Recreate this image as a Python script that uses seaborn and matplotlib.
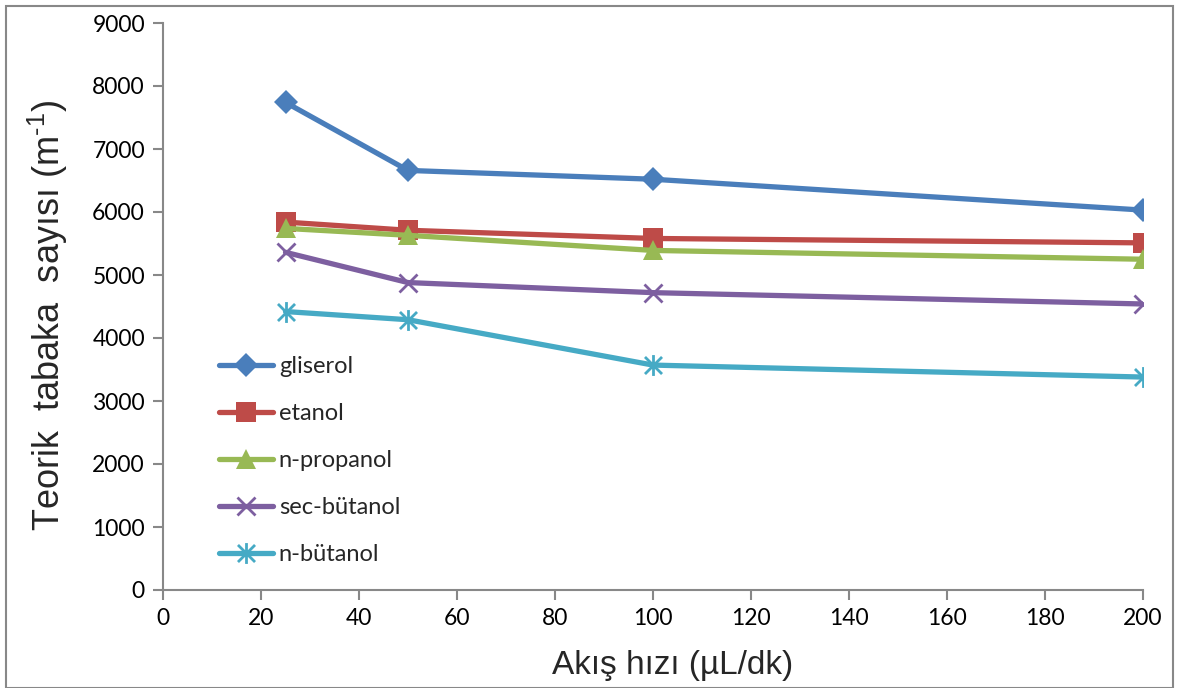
import matplotlib
matplotlib.use("Agg")
import matplotlib.pyplot as plt
from matplotlib.path import Path
import seaborn as sns
import pandas as pd

# Flow rates (µL/dk) and theoretical plate numbers per solvent
flow_rates = [25, 50, 100, 200]
gliserol = [7740, 6660, 6520, 6030]
etanol = [5840, 5710, 5580, 5510]
n_propanol = [5740, 5630, 5390, 5250]
sec_butanol = [5360, 4880, 4720, 4540]
n_butanol = [4420, 4290, 3570, 3380]

series_names = ["gliserol", "etanol", "n-propanol", "sec-bütanol", "n-bütanol"]
series_values = [gliserol, etanol, n_propanol, sec_butanol, n_butanol]

y_ticks = [0, 1000, 2000, 3000, 4000, 5000, 6000, 7000, 8000, 9000]
x_ticks = [0, 20, 40, 60, 80, 100, 120, 140, 160, 180, 200]

rows = []
for name, vals in zip(series_names, series_values):
    for x, y in zip(flow_rates, vals):
        rows.append({"akis": x, "N": y, "cozucu": name})
df = pd.DataFrame(rows)

sns.set_theme(style="white")
plt.rcParams["font.family"] = ["Lato", "DejaVu Sans"]
plt.rcParams["mathtext.fontset"] = "custom"
plt.rcParams["mathtext.rm"] = "Liberation Sans"
plt.rcParams["mathtext.it"] = "Liberation Sans"

# Asterisk marker: vertical stroke plus an X
asterisk = Path(
    [(0, -0.55), (0, 0.55), (-0.45, -0.45), (0.45, 0.45), (-0.45, 0.45), (0.45, -0.45)],
    [Path.MOVETO, Path.LINETO, Path.MOVETO, Path.LINETO, Path.MOVETO, Path.LINETO],
)

styles = {
    "gliserol": dict(color="#4A7EBB", marker="D", ms=12, mew=0),
    "etanol": dict(color="#BE4B48", marker="s", ms=14, mew=0),
    "n-propanol": dict(color="#98B954", marker="^", ms=14, mew=0),
    "sec-bütanol": dict(color="#7D5FA0", marker="x", ms=13, mew=2),
    "n-bütanol": dict(color="#46AAC5", marker=asterisk, ms=15, mew=2),
}

fig = plt.figure(figsize=(11.79, 6.88), dpi=100)
ax = fig.add_axes([163 / 1179, 1 - 590 / 688, 980 / 1179, 567 / 688])

for name in series_names:
    st = styles[name]
    sub = df[df["cozucu"] == name]
    sns.lineplot(data=sub, x="akis", y="N", ax=ax, color=st["color"], lw=3.8,
                 marker=st["marker"], markersize=st["ms"], markeredgewidth=st["mew"],
                 markeredgecolor=st["color"], markerfacecolor=st["color"],
                 label=name, legend=False)

ax.set_xlim(0, 200)
ax.set_ylim(0, 9000)
ax.set_xticks(x_ticks)
ax.set_yticks(y_ticks)
ax.tick_params(axis="both", labelsize=16.5, colors="#888888", labelcolor="black",
               direction="out", length=7, width=1.5, bottom=True, left=True, pad=6)

for side in ["top", "right"]:
    ax.spines[side].set_visible(False)
for side in ["left", "bottom"]:
    ax.spines[side].set_color("#888888")
    ax.spines[side].set_linewidth(1.5)

ax.set_xlabel("Akış hızı (µL/dk)", fontsize=24, family=["Liberation Sans"])
ax.xaxis.set_label_coords(0.52, -0.105)
ax.set_ylabel("Teorik  tabaka  sayısı (m$^{\\text{-}1}$)", fontsize=26,
              family=["Liberation Sans"])
ax.yaxis.set_label_coords(-0.095, 0.485)

ax.legend(loc="upper left", bbox_to_anchor=(0.035, 0.45), frameon=False, fontsize=17,
          handlelength=2.3, labelspacing=1.1, handletextpad=0.25)

# Outer border around the figure
border = plt.Rectangle((6 / 1179, 0.0), 1 - 12 / 1179, 1 - 6 / 688, transform=fig.transFigure,
                       fill=False, edgecolor="#888888", linewidth=1.5)
fig.patches.append(border)

fig.savefig("out.png", dpi=100)
